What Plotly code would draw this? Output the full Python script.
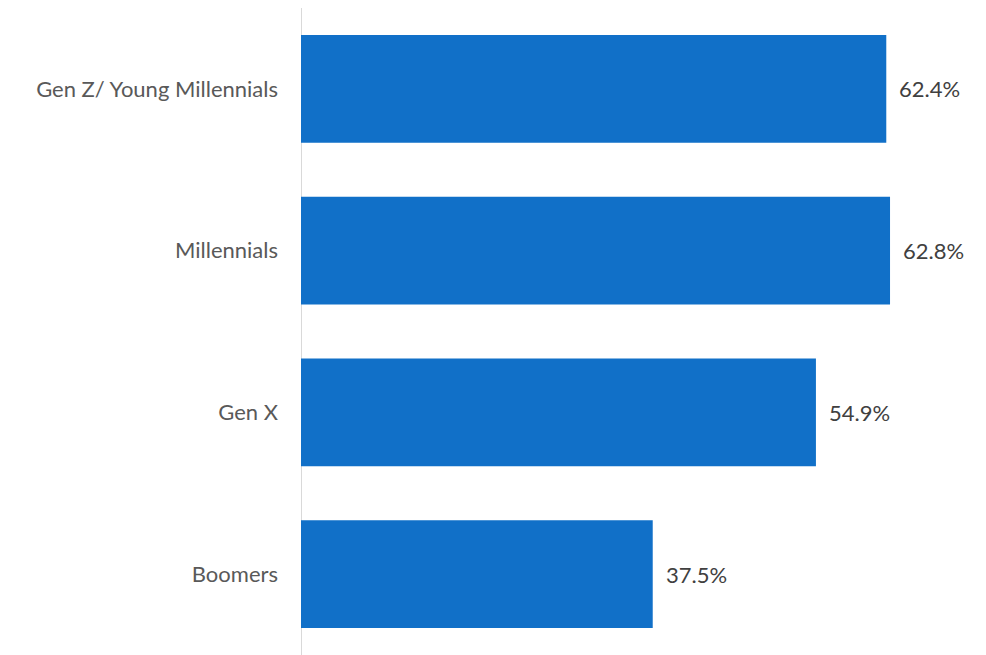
import plotly.graph_objects as go

categories = ["Gen Z/ Young Millennials", "Millennials", "Gen X", "Boomers"]
values = [62.4, 62.8, 54.9, 37.5]
value_labels = ["62.4%", "62.8%", "54.9%", "37.5%"]

bar_color = "#1170C8"
font_family = "Lato, 'Open Sans', sans-serif"

fig = go.Figure(
    go.Bar(
        y=categories,
        x=values,
        orientation="h",
        marker=dict(color=bar_color, line=dict(width=0)),
        width=0.665,
        hoverinfo="skip",
    )
)

for cat, val, lab in zip(categories, values, value_labels):
    fig.add_annotation(
        x=val, y=cat, text=lab, showarrow=False,
        xanchor="left", yanchor="middle", xshift=11,
        font=dict(family=font_family, size=22, color="#404040"),
    )

fig.update_layout(
    width=986, height=655,
    margin=dict(l=301, r=20, t=8, b=0),
    paper_bgcolor="white", plot_bgcolor="white",
    showlegend=False,
    xaxis=dict(range=[0, 70.9], visible=False, fixedrange=True),
    yaxis=dict(
        categoryorder="array", categoryarray=categories[::-1],
        showgrid=False, zeroline=False,
        showline=False, ticks="",
        ticklabelstandoff=22,
        tickfont=dict(family=font_family, size=22, color="#595959"),
    ),
)

fig.add_shape(
    type="line", xref="x", yref="paper", x0=0, x1=0, y0=0, y1=1,
    line=dict(color="#D9D9D9", width=2), layer="below",
)

fig.write_html("out.html")
